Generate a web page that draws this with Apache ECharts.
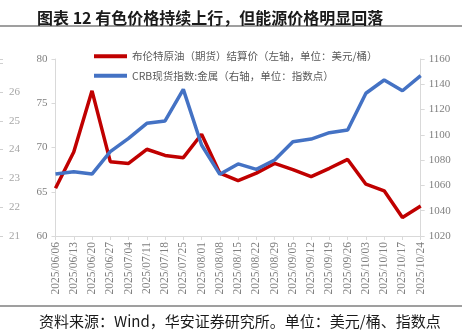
<!DOCTYPE html>
<html><head><meta charset="utf-8">
<script src="https://cdn.jsdelivr.net/npm/echarts@6/dist/echarts.min.js"></script>
<style>html,body{margin:0;padding:0;background:#fff}#c{width:467px;height:335px}</style>
</head><body><div id="c"></div>
<script>
const categories = ['2025/06/06','2025/06/13','2025/06/20','2025/06/27','2025/07/04','2025/07/11','2025/07/18','2025/07/25','2025/08/01','2025/08/08','2025/08/15','2025/08/22','2025/08/29','2025/09/05','2025/09/12','2025/09/19','2025/09/26','2025/10/03','2025/10/10','2025/10/17','2025/10/24'];
const brent = [65.4,69.5,76.4,68.4,68.2,69.8,69.1,68.85,71.5,67.1,66.25,67.1,68.2,67.5,66.7,67.65,68.65,65.85,65.1,62.1,63.4];
const crbMetal = [1069,1070.9,1069,1086.7,1097.2,1109.1,1111,1136,1092,1068.8,1077,1072.7,1080.1,1094.6,1096.7,1101.7,1103.8,1132.9,1143.4,1134.9,1146.8];
const ghostTicks = [21,22,23,24,25,26];
const names = ['布伦特原油（期货）结算价（左轴，单位：美元/桶）','CRB现货指数:金属（右轴，单位：指数点）'];
const titleText = '图表 12 有色价格持续上行，但能源价格明显回落';
const sourceText = '资料来源：Wind，华安证券研究所。单位：美元/桶、指数点';

const serif = '"Liberation Serif","DejaVu Serif",serif';
const cjk = '"Noto Sans CJK SC","Liberation Serif",sans-serif';
const axisGray = '#d9d9d9';
const labelGray = '#7f7f7f';

const chart = echarts.init(document.getElementById('c'), null, {renderer:'canvas'});
chart.setOption({
  animation:false,
  title:[
    {text:titleText,left:32,top:5,textStyle:{fontFamily:cjk,fontSize:16,fontWeight:'bold',color:'#1a1a1a'}},
    {text:sourceText,left:34,top:309,textStyle:{fontFamily:cjk,fontSize:15,fontWeight:'normal',color:'#1a1a1a'}}
  ],
  graphic:[
    {type:'line',shape:{x1:0,y1:26,x2:462,y2:26},style:{stroke:'#7f7f7f',lineWidth:1.5}},
    {type:'line',shape:{x1:0,y1:306,x2:462,y2:306},style:{stroke:'#7f7f7f',lineWidth:1.5}}
  ],
  legend:{
    orient:'vertical',left:94,top:51,itemWidth:33,itemHeight:4,itemGap:9,
    icon:'rect',padding:0,
    textStyle:{fontFamily:cjk,fontSize:10.5,color:'#595959'},
    data:names
  },
  grid:{left:55.5,right:46.3,top:59,bottom:99},
  xAxis:{
    type:'category',data:categories,boundaryGap:false,
    axisLine:{lineStyle:{color:axisGray}},
    axisTick:{show:true,alignWithLabel:true,length:4,lineStyle:{color:axisGray}},
    axisLabel:{rotate:90,interval:0,fontFamily:serif,fontSize:11.5,color:labelGray,margin:6}
  },
  yAxis:[
    {type:'value',min:60,max:80,interval:5,position:'left',
     axisLine:{show:true,lineStyle:{color:axisGray}},
     axisTick:{show:true,length:4,lineStyle:{color:axisGray}},
     splitLine:{show:false},
     axisLabel:{fontFamily:serif,fontSize:11,color:labelGray,margin:8}},
    {type:'value',min:1020,max:1160,interval:20,position:'right',
     axisLine:{show:true,lineStyle:{color:axisGray}},
     axisTick:{show:true,length:4,lineStyle:{color:axisGray}},
     splitLine:{show:false},
     axisLabel:{fontFamily:serif,fontSize:11,color:labelGray,margin:8,formatter:function(v){return String(v);}}},
    {type:'value',min:21,max:27.146,interval:1,position:'left',offset:52.5,
     axisLine:{show:false},
     axisTick:{show:true,length:3,lineStyle:{color:'#d0d0d0'}},
     splitLine:{show:false},
     axisLabel:{inside:true,margin:6,fontFamily:serif,fontSize:11,color:'#a6a6a6',
       formatter:function(v){return ghostTicks.indexOf(v)>=0?String(v):'';}}}
  ],
  series:[
    {name:names[0],type:'line',yAxisIndex:0,data:brent,symbol:'none',
     lineStyle:{color:'#C00000',width:3.5},itemStyle:{color:'#C00000'}},
    {name:names[1],type:'line',yAxisIndex:1,data:crbMetal,symbol:'none',
     lineStyle:{color:'#4472C4',width:3.5},itemStyle:{color:'#4472C4'}},
    {type:'line',yAxisIndex:2,data:[],silent:true}
  ]
});
</script></body></html>
